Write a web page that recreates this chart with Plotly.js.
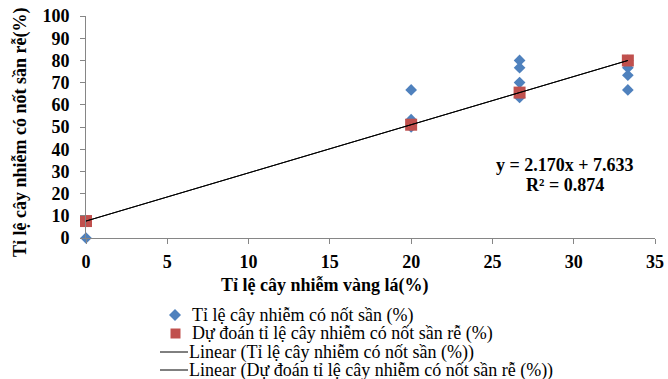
<!DOCTYPE html>
<html>
<head>
<meta charset="utf-8">
<script src="https://cdn.plot.ly/plotly-3.0.1.min.js"></script>
<style>html,body{margin:0;padding:0;background:#fff;}#chart{width:668px;height:379px;}</style>
</head>
<body>
<div id="chart"></div>
<script>
// Observed data (blue diamonds)
const obsX = [0, 20, 20, 20, 26.67, 26.67, 26.67, 26.67, 33.33, 33.33, 33.33, 33.33];
const obsY = [0, 66.7, 53.3, 50, 80, 76.7, 70, 63.3, 80, 76.7, 73.3, 66.7];
// Predicted (red squares)
const predX = [0, 20, 26.67, 33.33];
const predY = [7.633, 51.03, 65.50, 79.96];
// Trendline coefficients
const slope = [2.170];
const intercept = [7.633];
const r2 = [0.874];
const trendRange = [0, 33.33];

const names = [
  "Tỉ lệ cây nhiễm có nốt sần (%)",
  "Dự đoán tỉ lệ cây nhiễm có nốt sần rễ (%)",
  "Linear (Tỉ lệ cây nhiễm có nốt sần (%))",
  "Linear (Dự đoán tỉ lệ cây nhiễm có nốt sần rễ (%))"
];
const xTitle = "Tỉ lệ cây nhiễm vàng lá(%)";
const yTitle = "Tỉ lệ cây nhiễm có nốt sần rễ(%)";

const BLUE = '#4f81bd', RED = '#c0504d';
const trendY = trendRange.map(x => slope[0] * x + intercept[0]);
const FONT = "Liberation Serif, Times New Roman, serif";
const FS = 18;

// plot area in pixels: left 86, right 655, top 16, bottom 238
const L = 86, R = 655, T = 16, B = 238;
const fx = px => (px - L) / (R - L);
const fy = py => (B - py) / (B - T);

const traces = [
  {x: obsX, y: obsY, mode: 'markers', type: 'scatter', name: names[0], cliponaxis: false,
   marker: {symbol: 'diamond', size: 9, color: BLUE}},
  {x: predX, y: predY, mode: 'markers', type: 'scatter', name: names[1], cliponaxis: false,
   marker: {symbol: 'square', size: 12, color: RED}},
  {x: trendRange, y: trendY, mode: 'lines', type: 'scatter', name: names[2], cliponaxis: false,
   line: {color: '#000', width: 1}},
  {x: trendRange, y: trendY, mode: 'lines', type: 'scatter', name: names[3], cliponaxis: false,
   line: {color: '#000', width: 1}}
];

// manual legend (below plot, tight rows like the original)
const legRows = [315, 333.5, 352, 370];
const shapes = [];
const annotations = [];
shapes.push({type: 'path', xref: 'paper', yref: 'paper', line: {width: 0}, fillcolor: BLUE,
  path: `M ${fx(175)} ${fy(legRows[0]-6)} L ${fx(181)} ${fy(legRows[0])} L ${fx(175)} ${fy(legRows[0]+6)} L ${fx(169)} ${fy(legRows[0])} Z`});
shapes.push({type: 'rect', xref: 'paper', yref: 'paper', line: {width: 0}, fillcolor: RED,
  x0: fx(170.5), x1: fx(180.5), y0: fy(legRows[1]-5), y1: fy(legRows[1]+5)});
[2, 3].forEach(i => shapes.push({type: 'line', xref: 'paper', yref: 'paper', line: {color: '#000', width: 1},
  x0: fx(160), x1: fx(188), y0: fy(legRows[i]), y1: fy(legRows[i])}));
names.forEach((n, i) => annotations.push({
  xref: 'paper', yref: 'paper', x: fx(i < 2 ? 190 : 187), y: fy(legRows[i]), xanchor: 'left', yanchor: 'middle',
  showarrow: false, text: n, font: {family: FONT, size: FS, color: '#000'}
}));

// axis titles and equation
annotations.push({xref: 'paper', yref: 'paper', x: fx(325), y: fy(285), xanchor: 'center', yanchor: 'middle',
  showarrow: false, text: '<b>' + xTitle + '</b>', font: {family: FONT, size: FS, color: '#000'}});
annotations.push({xref: 'paper', yref: 'paper', x: fx(20), y: fy(133), xanchor: 'center', yanchor: 'middle',
  textangle: -90, showarrow: false, text: '<b>' + yTitle + '</b>', font: {family: FONT, size: FS, color: '#000'}});
annotations.push({xref: 'paper', yref: 'paper', x: fx(565), y: fy(165), xanchor: 'center', yanchor: 'middle',
  showarrow: false, text: '<b>y = ' + slope[0].toFixed(3) + 'x + ' + intercept[0].toFixed(3) + '</b>',
  font: {family: FONT, size: FS, color: '#000'}});
annotations.push({xref: 'paper', yref: 'paper', x: fx(565), y: fy(185), xanchor: 'center', yanchor: 'middle',
  showarrow: false, text: '<b>R² = ' + r2[0].toFixed(3) + '</b>',
  font: {family: FONT, size: FS, color: '#000'}});

const layout = {
  width: 668, height: 379,
  margin: {l: L, r: 668 - R, t: T, b: 379 - B, autoexpand: false},
  paper_bgcolor: '#fff', plot_bgcolor: '#fff',
  font: {family: FONT, color: '#000'},
  showlegend: false,
  xaxis: {range: [0, 35], dtick: 5, showgrid: false, zeroline: false,
    showline: true, linecolor: '#868686', linewidth: 1,
    ticks: 'outside', ticklen: 5, tickcolor: '#868686',
    tickprefix: '<b>', ticksuffix: '</b>', ticklabelstandoff: 2,
    tickfont: {family: FONT, size: FS, color: '#000'}},
  yaxis: {range: [0, 100], dtick: 10, showgrid: false, zeroline: false,
    showline: true, linecolor: '#868686', linewidth: 1,
    ticks: 'outside', ticklen: 5, tickcolor: '#868686',
    tickprefix: '<b>', ticksuffix: '</b>', ticklabelstandoff: 7,
    tickfont: {family: FONT, size: FS, color: '#000'}},
  shapes: shapes,
  annotations: annotations
};

Plotly.newPlot('chart', traces, layout, {displayModeBar: false, staticPlot: true});
</script>
</body>
</html>
